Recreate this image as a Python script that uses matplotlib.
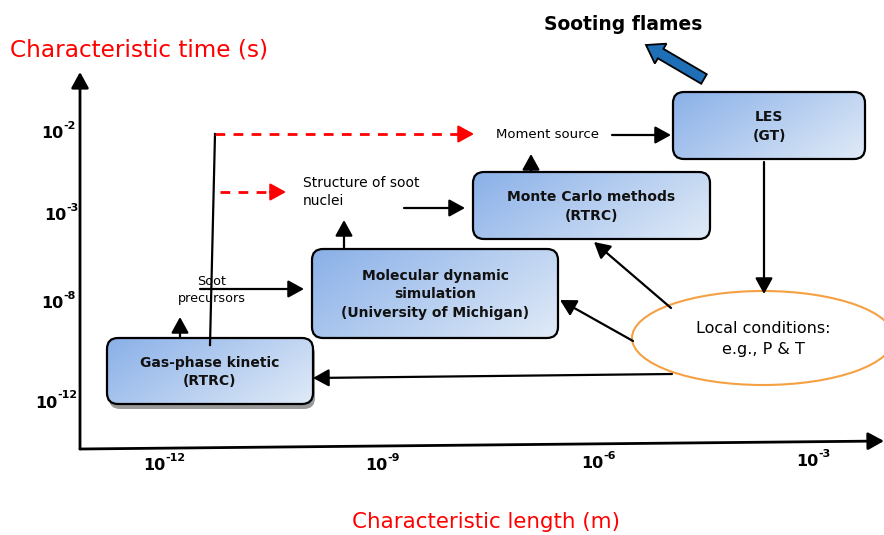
import numpy as np
import matplotlib
matplotlib.use("Agg")
import matplotlib.pyplot as plt
from matplotlib.patches import FancyBboxPatch, Ellipse, FancyArrow

# axis labels and tick exponents
y_title = "Characteristic time (s)"
x_title = "Characteristic length (m)"
y_exponents = ["-2", "-3", "-8", "-12"]
x_exponents = ["-12", "-9", "-6", "-3"]

# model boxes
box_names = ["LES\n(GT)",
             "Monte Carlo methods\n(RTRC)",
             "Molecular dynamic\nsimulation\n(University of Michigan)",
             "Gas-phase kinetic\n(RTRC)"]
free_labels = ["Moment source", "Structure of soot\nnuclei", "Soot\nprecursors"]
ellipse_label = "Local conditions:\ne.g., P & T"
top_label = "Sooting flames"

# layout in pixels (origin top-left)
W, H = 884, 535
y_tick_pos = [(63, 134), (66, 216), (63, 304), (57, 403)]
x_tick_pos = [(165, 466), (387, 466), (603, 464), (818, 462)]
box_pos = [(673, 92, 192, 67), (473, 172, 237, 67), (312, 249, 246, 89), (107, 338, 206, 66)]


def arrow(ax, x0, y0, x1, y1, color="black", lw=1.6):
    ax.annotate("", xy=(x1, y1), xytext=(x0, y0),
                arrowprops=dict(arrowstyle="-|>,head_length=0.6,head_width=0.33",
                                mutation_scale=16, lw=lw, color=color,
                                shrinkA=0, shrinkB=0))


def gradient_box(ax, x, y, w, h, text, shadow=False):
    if shadow:
        sh = FancyBboxPatch((x + 2, y + 5), w, h, boxstyle="round,pad=0,rounding_size=11",
                            fc="#9a9a9a", ec="none", zorder=2)
        ax.add_patch(sh)
    patch = FancyBboxPatch((x, y), w, h, boxstyle="round,pad=0,rounding_size=11",
                           fc="none", ec="black", lw=1.6, zorder=4)
    ax.add_patch(patch)
    gx, gy = np.meshgrid(np.linspace(0, 1, 200), np.linspace(0, 1, 100))
    t = (gx * w + gy * h * 1.5) / (w + h * 1.5)
    c0 = np.array([0.54, 0.69, 0.91])
    c1 = np.array([0.88, 0.92, 0.97])
    img = c0[None, None, :] * (1 - t[..., None]) + c1[None, None, :] * t[..., None]
    im = ax.imshow(img, extent=(x, x + w, y + h, y), origin="upper", zorder=3,
                   interpolation="bilinear")
    im.set_clip_path(patch)
    ax.text(x + w / 2, y + h / 2 + 1, text, ha="center", va="center", fontsize=10,
            fontweight="bold", color="#111111", linespacing=1.45, zorder=5)


def pow_label(ax, x, y, exp):
    ax.text(x, y, "10", ha="right", va="center", fontsize=11.5, fontweight="bold")
    ax.text(x, y - 8, exp, ha="left", va="center", fontsize=8, fontweight="bold")


fig = plt.figure(figsize=(W / 100, H / 100), dpi=100)
ax = fig.add_axes([0, 0, 1, 1])
ax.set_xlim(0, W)
ax.set_ylim(H, 0)
ax.axis("off")

# axes arrows
arrow(ax, 80, 449, 80, 72, lw=2)
arrow(ax, 80, 449, 884, 441, lw=2)
ax.text(10, 50, y_title, color="red", fontsize=16.7, ha="left", va="center")
ax.text(486, 522, x_title, color="red", fontsize=15.4, ha="center", va="center")

for (px, py), e in zip(y_tick_pos, y_exponents):
    pow_label(ax, px, py, e)
for (px, py), e in zip(x_tick_pos, x_exponents):
    pow_label(ax, px, py, e)

# boxes
for i, ((bx, by, bw, bh), name) in enumerate(zip(box_pos, box_names)):
    gradient_box(ax, bx, by, bw, bh, name, shadow=(i == 3))

# ellipse
ax.add_patch(Ellipse((763, 338), 262, 94, fc="white", ec="#f5a042", lw=1.5, zorder=3))
ax.text(763, 339, ellipse_label, ha="center", va="center", fontsize=11.5,
        linespacing=1.45, zorder=5)

# sooting flames
ax.text(623, 25, top_label, ha="center", va="center", fontsize=13.5, fontweight="bold")
ax.add_patch(FancyArrow(704, 79, -58, -34, width=11, head_width=23, head_length=17,
                        length_includes_head=True, fc="#1f6fb6", ec="black", lw=1.3))

# free text
ax.text(548, 135, free_labels[0], ha="center", va="center", fontsize=9.5)
ax.text(303, 192, free_labels[1], ha="left", va="center", fontsize=10, linespacing=1.35)
ax.text(212, 290, free_labels[2], ha="center", va="center", fontsize=9.2, linespacing=1.45)

# black arrows
arrow(ax, 764, 162, 764, 294)
arrow(ax, 671, 308, 594, 242)
arrow(ax, 633, 341, 560, 300)
arrow(ax, 672, 374, 313, 378)
arrow(ax, 180, 338, 180, 317)
arrow(ax, 200, 289, 304, 289)
arrow(ax, 344, 249, 344, 220)
arrow(ax, 404, 208, 465, 208)
arrow(ax, 531, 172, 531, 154)
arrow(ax, 612, 135, 671, 135)

# precursor line and red dashed links
ax.plot([210, 215], [345, 134], color="black", lw=1.6, zorder=4)
ax.plot([215, 460], [134, 134], color="red", lw=2, ls=(0, (3.5, 3)), zorder=4)
arrow(ax, 458, 134, 474, 134, color="red")
ax.plot([220, 272], [192, 192], color="red", lw=2, ls=(0, (3.5, 3)), zorder=4)
arrow(ax, 270, 192, 286, 192, color="red")

fig.savefig("out.png", dpi=100)
